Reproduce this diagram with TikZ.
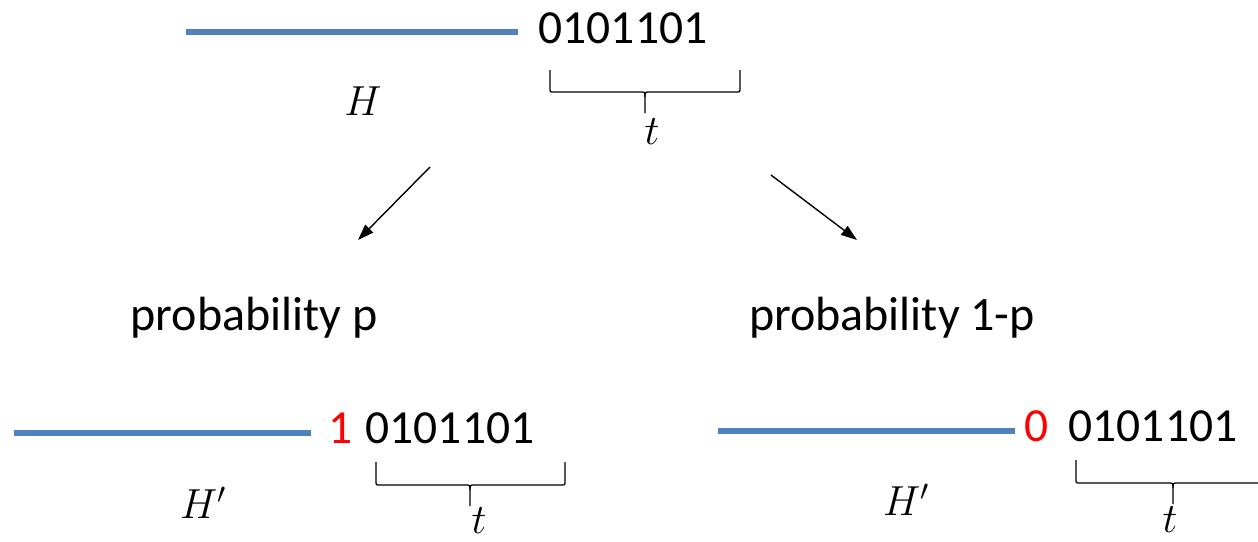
\documentclass[tikz,border=0pt]{standalone}
\usepackage{fix-cm}
\usepackage{fontspec}
\setmainfont{Carlito}
\usetikzlibrary{arrows.meta}
\definecolor{hblue}{HTML}{4F81BD}
\definecolor{bitred}{HTML}{FF0000}
\newcommand{\drawbrace}[6]{% left, right, top, hy, mid, bottom
  \draw[bracestyle] (#1,#3) -- (#1,#4-4) .. controls (#1,#4) .. (#1+4,#4) -- (#5-5,#4) .. controls (#5,#4) .. (#5,#4+5) -- (#5,#6);
  \draw[bracestyle] (#2,#3) -- (#2,#4-4) .. controls (#2,#4) .. (#2-4,#4) -- (#5+5,#4) .. controls (#5,#4) .. (#5,#4+5);
}
\begin{document}
\begin{tikzpicture}[x=1pt,y=-1pt,
  hline/.style={draw=hblue,line width=6pt},
  bits/.style={inner sep=0pt,font=\fontsize{47.5}{56}\selectfont},
  redbit/.style={bits,text=bitred},
  mathlbl/.style={inner sep=0pt,font=\fontsize{42}{50}\selectfont},
  bracestyle/.style={draw=black,line width=1.3pt},
  arr/.style={draw=black,line width=1.4pt,-{Triangle[length=16pt,width=11pt]}},
  problbl/.style={inner sep=0pt,font=\fontsize{48}{56}\selectfont}]
\useasboundingbox (0,0) rectangle (1258,541);
\begin{scope}
\clip (0,0) rectangle (1258,541);
% top
\coordinate (tl1) at (186,32);
\coordinate (tl2) at (518,32);
\draw[hline] (tl1) -- (tl2);
\node[bits] (topbits) at (623,28) {0101101};
\drawbrace{550}{740}{70}{92}{645}{113}
\node[mathlbl] (tlab) at (652,132) {$t$};
\node[mathlbl] (Hlab) at (363,101) {$H$};
% arrows
\coordinate (a1s) at (430,167);
\coordinate (a1e) at (358,240);
\coordinate (a2s) at (771,175);
\coordinate (a2e) at (857,240);
\draw[arr] (a1s) -- (a1e);
\draw[arr] (a2s) -- (a2e);
\node[problbl] (pl) at (254,318) {probability p};
\node[problbl] (pr) at (892,318) {probability 1-p};
% bottom left
\coordinate (bl1) at (14,433);
\coordinate (bl2) at (311,433);
\draw[hline] (bl1) -- (bl2);
\node[redbit] (one) at (341,428) {1};
\node[bits] (lbits) at (450,428) {0101101};
\drawbrace{376}{565}{462}{485}{470}{506}
\node[mathlbl] (tl) at (479,521) {$t$};
\node[mathlbl] (Hl) at (203,503) {$H'$};
% bottom right
\coordinate (br1) at (718,431);
\coordinate (br2) at (1015,431);
\draw[hline] (br1) -- (br2);
\node[redbit] (zero) at (1037,426) {0};
\node[bits] (rbits) at (1153,426) {0101101};
\drawbrace{1076}{1266}{460}{483}{1173}{504}
\node[mathlbl] (tr) at (1170,520) {$t$};
\node[mathlbl] (Hr) at (906,500) {$H'$};
\end{scope}
\end{tikzpicture}
\end{document}
